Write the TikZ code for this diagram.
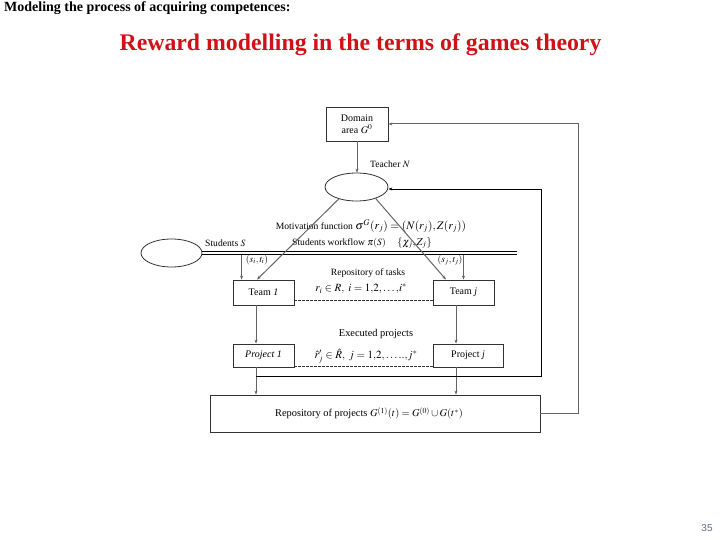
\documentclass[tikz,border=0pt]{standalone}
\usepackage{mathptmx}
\usepackage{fontspec}
\setmainfont{Liberation Serif}
\newfontfamily\numfont{Liberation Sans}
\usetikzlibrary{arrows.meta,shapes.geometric,calc}
\definecolor{titlered}{RGB}{208,18,24}
\definecolor{conn}{RGB}{100,100,100}
\definecolor{boxc}{RGB}{50,50,50}
\definecolor{numc}{RGB}{95,105,125}
\tikzset{
  box/.style={draw=boxc, line width=0.8pt, inner sep=1pt, align=center, font=\fontsize{10}{12}\selectfont},
  oval/.style={draw=boxc, line width=0.8pt, ellipse, inner sep=0pt},
  conarrow/.style={draw=conn, line width=1pt, -{Stealth[length=4pt,width=3pt]}},
  conline/.style={draw=conn, line width=1pt},
  desc/.style={inner sep=0pt, font=\fontsize{9.6}{11}\selectfont},
  formula/.style={inner sep=0pt, font=\fontsize{11}{12}\selectfont},
  small/.style={inner sep=0pt, font=\fontsize{9.6}{11}\selectfont}
}
\begin{document}
\begin{tikzpicture}[x=1pt,y=-1pt]
\useasboundingbox (0,0) rectangle (720,540);
% titles
\node[anchor=west, inner sep=0pt, font=\bfseries\fontsize{14}{16}\selectfont] (hdr) at (4,8) {Modeling the process of acquiring competences:};
\node[inner sep=0pt, text=titlered, font=\bfseries\fontsize{23.8}{26}\selectfont] (ttl) at (360.5,45) {Reward modelling in the terms of games theory};
\node[inner sep=0pt, text=numc, font=\numfont\fontsize{10}{12}\selectfont] (pg) at (707,528) {35};
% nodes
\node[box, minimum width=62pt, minimum height=34pt] (domain) at (357,124) {Domain\\area $G^{0}$};
\node[oval, minimum width=63pt, minimum height=28pt] (teacher) at (356.5,187) {};
\node[oval, minimum width=61pt, minimum height=28pt] (students) at (171.5,253) {};
\node[box, minimum width=61pt, minimum height=25pt] (team1) at (263.5,292.5) {Team \textit{1}};
\node[box, minimum width=61pt, minimum height=25pt] (teamj) at (463.5,292.5) {Team \textit{j}};
\node[box, minimum width=61pt, minimum height=23pt] (proj1) at (263.5,355.5) {\textit{Project 1}};
\node[box, minimum width=70pt, minimum height=23pt] (projj) at (468,355.5) {Project \textit{j}};
\node[box, minimum width=330pt, minimum height=37pt, font=\fontsize{10.4}{12}\selectfont] (repo) at (375,413.5) {\hspace*{-12pt}Repository of projects $G^{(1)}(t)=G^{(0)}\cup G(t^{*})$};
% labels
\node[small, anchor=west] (teachlbl) at (370,164) {Teacher $N$};
\node[small, anchor=west] (studlbl) at (205,243) {Students $S$};
\node[desc] (motiv) at (371,226) {Motivation function \fontsize{11.5}{12}\selectfont$\sigma^{G}(r_j)=(N(r_j),Z(r_j))$};
\node[desc] (workfl) at (362,243) {Students workflow $\pi(S)$\hspace{1.2em}\fontsize{10.5}{12}\selectfont$\{\chi_j,Z_j\}$};
\node[small] (sti) at (257,260) {$(s_i,t_i)$};
\node[small] (stj) at (450,260) {$(s_j,t_j)$};
\node[desc] (reptask) at (368,273) {Repository of tasks};
\node[formula] (taskset) at (361,289) {$r_i\in R,\ i=1{,}2{,}\ldots{,}i^{*}$};
\node[desc, font=\fontsize{10.4}{11}\selectfont] (exec) at (376,334) {Executed projects};
\node[formula] (projset) at (366,356) {$\hat r_j'\in \hat R,\ j=1{,}2{,}\ldots..{,}j^{*}$};
% coordinates
\coordinate (dl) at (517,253);
\coordinate (tr) at (541,189);
\coordinate (orr) at (578,124);
\coordinate (loopA) at (256,376);
% connectors
\draw[conarrow] (domain.south) -- (domain.south |- teacher.north);
\draw[conarrow] (orr |- repo.east) -- (orr) -- (domain.east);
\draw[conline] (repo.east) -- (orr |- repo.east);
\draw[black, line width=0.7pt] ([yshift=1.2pt]students.east |- dl) -- ([yshift=1.2pt]dl);
\draw[black, line width=0.7pt] ([yshift=-1.2pt]students.east |- dl) -- ([yshift=-1.2pt]dl);
\draw[conarrow] (teacher.214) -- ([xshift=-6.5pt]team1.north);
\draw[conarrow] (teacher.-31) -- ([xshift=-17.5pt]teamj.north);
\draw[conarrow] ([xshift=9pt]team1.north west |- dl) ++(0,1.5) -- ([xshift=9pt]team1.north west);
\draw[conarrow] (teamj.north |- dl) ++(0,1.5) -- (teamj.north);
\draw[conarrow] ([xshift=-7.5pt]team1.south) -- ([xshift=-7.5pt]team1.south |- proj1.north);
\draw[conarrow] ([xshift=-7.5pt]teamj.south) -- ([xshift=-7.5pt]teamj.south |- projj.north);
\draw[conarrow] (loopA |- proj1.south) -- (loopA |- repo.north);
\draw[conarrow] ([xshift=-7.5pt]teamj.south |- projj.south) -- ([xshift=-7.5pt]teamj.south |- repo.north);
\draw[black, line width=0.7pt, -{Stealth[length=4pt,width=3pt]}] (loopA) -- (tr |- loopA) -- (tr) -- (tr -| teacher.east);
\draw[boxc, line width=0.7pt, dash pattern=on 2.5pt off 1.5pt] ([yshift=5pt]team1.south east) -- ([yshift=5pt]teamj.south west);
\draw[boxc, line width=0.7pt, dash pattern=on 2.5pt off 1.5pt] ([yshift=1pt]proj1.south east) -- ([yshift=1pt]projj.south west);
\end{tikzpicture}
\end{document}
